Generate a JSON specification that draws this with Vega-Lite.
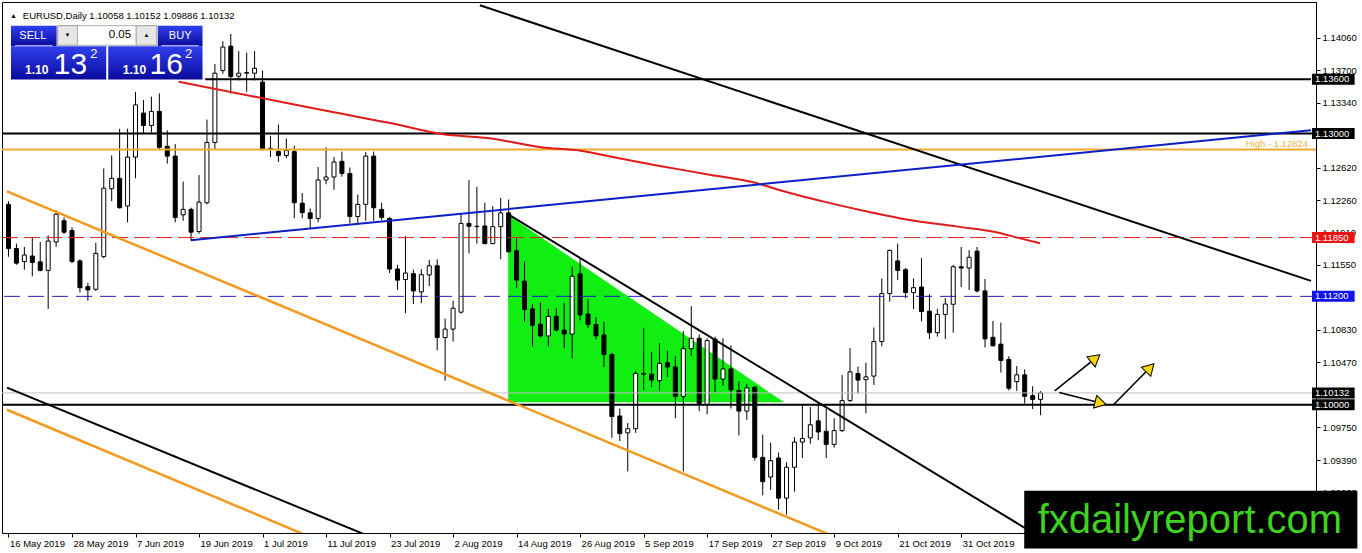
{
  "$schema": "https://vega.github.io/schema/vega-lite/v6.json",
  "width": 1314,
  "height": 531,
  "autosize": {"type": "none"},
  "padding": {"left": 2, "top": 2, "right": 46, "bottom": 20},
  "background": "white",
  "config": {
    "view": {"stroke": "black", "strokeWidth": 1},
    "axis": {"labelFont": "Liberation Sans", "labelFontSize": 9.5, "labelColor": "black", "tickColor": "black", "domainColor": "black", "grid": false, "title": null},
    "text": {"font": "Liberation Sans"}
  },
  "datasets": {
    "candles": [
      {"i":0,"d":"2019-05-16","o":1.12217,"h":1.12253,"l":1.11639,"c":1.11729},
      {"i":1,"d":"2019-05-17","o":1.11729,"h":1.11783,"l":1.11549,"c":1.11567},
      {"i":2,"d":"2019-05-20","o":1.11585,"h":1.11747,"l":1.11495,"c":1.11657},
      {"i":3,"d":"2019-05-21","o":1.11646,"h":1.11856,"l":1.11422,"c":1.11574},
      {"i":4,"d":"2019-05-22","o":1.11581,"h":1.11801,"l":1.11476,"c":1.11487},
      {"i":5,"d":"2019-05-23","o":1.11487,"h":1.11874,"l":1.11061,"c":1.11812},
      {"i":6,"d":"2019-05-24","o":1.11801,"h":1.12152,"l":1.11747,"c":1.12108},
      {"i":7,"d":"2019-05-27","o":1.12036,"h":1.12072,"l":1.11892,"c":1.1191},
      {"i":8,"d":"2019-05-28","o":1.11928,"h":1.11964,"l":1.11567,"c":1.11585},
      {"i":9,"d":"2019-05-29","o":1.11592,"h":1.1161,"l":1.11242,"c":1.11296},
      {"i":10,"d":"2019-05-30","o":1.11307,"h":1.1135,"l":1.11152,"c":1.11271},
      {"i":11,"d":"2019-05-31","o":1.11278,"h":1.11791,"l":1.1126,"c":1.11675},
      {"i":12,"d":"2019-06-03","o":1.11639,"h":1.12614,"l":1.11621,"c":1.12397},
      {"i":13,"d":"2019-06-04","o":1.1239,"h":1.12758,"l":1.12253,"c":1.12505},
      {"i":14,"d":"2019-06-05","o":1.12505,"h":1.13054,"l":1.1217,"c":1.1218},
      {"i":15,"d":"2019-06-06","o":1.12199,"h":1.13054,"l":1.12018,"c":1.1274},
      {"i":16,"d":"2019-06-07","o":1.1274,"h":1.13462,"l":1.12505,"c":1.13318},
      {"i":17,"d":"2019-06-10","o":1.13227,"h":1.13372,"l":1.12993,"c":1.1309},
      {"i":18,"d":"2019-06-11","o":1.1309,"h":1.13408,"l":1.13011,"c":1.13245},
      {"i":19,"d":"2019-06-12","o":1.13245,"h":1.13444,"l":1.1283,"c":1.12848},
      {"i":20,"d":"2019-06-13","o":1.12859,"h":1.13036,"l":1.12668,"c":1.12751},
      {"i":21,"d":"2019-06-14","o":1.12751,"h":1.12884,"l":1.12018,"c":1.12072},
      {"i":22,"d":"2019-06-17","o":1.12101,"h":1.12469,"l":1.12036,"c":1.12162},
      {"i":23,"d":"2019-06-18","o":1.12162,"h":1.1218,"l":1.11819,"c":1.1191},
      {"i":24,"d":"2019-06-19","o":1.11917,"h":1.12541,"l":1.11892,"c":1.12242},
      {"i":25,"d":"2019-06-20","o":1.12235,"h":1.13155,"l":1.12217,"c":1.12902},
      {"i":26,"d":"2019-06-21","o":1.12902,"h":1.13769,"l":1.1283,"c":1.13668},
      {"i":27,"d":"2019-06-24","o":1.13697,"h":1.14022,"l":1.13661,"c":1.13957},
      {"i":28,"d":"2019-06-25","o":1.13967,"h":1.14101,"l":1.13444,"c":1.13632},
      {"i":29,"d":"2019-06-26","o":1.13635,"h":1.13913,"l":1.13588,"c":1.13668},
      {"i":30,"d":"2019-06-27","o":1.13668,"h":1.13895,"l":1.13462,"c":1.13675},
      {"i":31,"d":"2019-06-28","o":1.13668,"h":1.13913,"l":1.13588,"c":1.13722},
      {"i":32,"d":"2019-07-01","o":1.1357,"h":1.13697,"l":1.1281,"c":1.1283},
      {"i":33,"d":"2019-07-02","o":1.1283,"h":1.12975,"l":1.1274,"c":1.12837},
      {"i":34,"d":"2019-07-03","o":1.12801,"h":1.13101,"l":1.12686,"c":1.12758},
      {"i":35,"d":"2019-07-04","o":1.12758,"h":1.12946,"l":1.12729,"c":1.12812},
      {"i":36,"d":"2019-07-05","o":1.12801,"h":1.12866,"l":1.12065,"c":1.12235},
      {"i":37,"d":"2019-07-08","o":1.12231,"h":1.12343,"l":1.12065,"c":1.12126},
      {"i":38,"d":"2019-07-09","o":1.12123,"h":1.12173,"l":1.11946,"c":1.12061},
      {"i":39,"d":"2019-07-10","o":1.12061,"h":1.12632,"l":1.12018,"c":1.12487},
      {"i":40,"d":"2019-07-11","o":1.12487,"h":1.12848,"l":1.1244,"c":1.1252},
      {"i":41,"d":"2019-07-12","o":1.1252,"h":1.1274,"l":1.12379,"c":1.12686},
      {"i":42,"d":"2019-07-15","o":1.12693,"h":1.12801,"l":1.12523,"c":1.12559},
      {"i":43,"d":"2019-07-16","o":1.12559,"h":1.12624,"l":1.12007,"c":1.12083},
      {"i":44,"d":"2019-07-17","o":1.12083,"h":1.12325,"l":1.11993,"c":1.12217},
      {"i":45,"d":"2019-07-18","o":1.12217,"h":1.12794,"l":1.12036,"c":1.12751},
      {"i":46,"d":"2019-07-19","o":1.12751,"h":1.12801,"l":1.12036,"c":1.1218},
      {"i":47,"d":"2019-07-22","o":1.12162,"h":1.12235,"l":1.12043,"c":1.12072},
      {"i":48,"d":"2019-07-23","o":1.12061,"h":1.12079,"l":1.11458,"c":1.11502},
      {"i":49,"d":"2019-07-24","o":1.11502,"h":1.11549,"l":1.11271,"c":1.11379},
      {"i":50,"d":"2019-07-25","o":1.11386,"h":1.11866,"l":1.11014,"c":1.11458},
      {"i":51,"d":"2019-07-26","o":1.11451,"h":1.11495,"l":1.11115,"c":1.1126},
      {"i":52,"d":"2019-07-29","o":1.11249,"h":1.11502,"l":1.11123,"c":1.1144},
      {"i":53,"d":"2019-07-30","o":1.11437,"h":1.11603,"l":1.11314,"c":1.11538},
      {"i":54,"d":"2019-07-31","o":1.11538,"h":1.1161,"l":1.10603,"c":1.10744},
      {"i":55,"d":"2019-08-01","o":1.10744,"h":1.10953,"l":1.10267,"c":1.10838},
      {"i":56,"d":"2019-08-02","o":1.10838,"h":1.11152,"l":1.107,"c":1.11069},
      {"i":57,"d":"2019-08-05","o":1.11025,"h":1.12115,"l":1.1101,"c":1.12007},
      {"i":58,"d":"2019-08-06","o":1.12007,"h":1.12487,"l":1.11675,"c":1.11975},
      {"i":59,"d":"2019-08-07","o":1.11975,"h":1.12411,"l":1.11783,"c":1.11971},
      {"i":60,"d":"2019-08-08","o":1.11978,"h":1.12235,"l":1.11776,"c":1.11783},
      {"i":61,"d":"2019-08-09","o":1.11783,"h":1.12198,"l":1.11776,"c":1.11971},
      {"i":62,"d":"2019-08-12","o":1.11971,"h":1.12289,"l":1.1161,"c":1.12123},
      {"i":63,"d":"2019-08-13","o":1.12123,"h":1.12271,"l":1.11685,"c":1.11693},
      {"i":64,"d":"2019-08-14","o":1.11704,"h":1.11856,"l":1.11296,"c":1.11379},
      {"i":65,"d":"2019-08-15","o":1.11368,"h":1.11585,"l":1.10917,"c":1.11054},
      {"i":66,"d":"2019-08-16","o":1.11061,"h":1.11115,"l":1.10646,"c":1.10881},
      {"i":67,"d":"2019-08-19","o":1.10892,"h":1.11134,"l":1.10744,"c":1.10762},
      {"i":68,"d":"2019-08-20","o":1.10762,"h":1.11061,"l":1.10646,"c":1.10978},
      {"i":69,"d":"2019-08-21","o":1.10978,"h":1.11069,"l":1.10809,"c":1.10827},
      {"i":70,"d":"2019-08-22","o":1.10827,"h":1.11126,"l":1.10628,"c":1.10783},
      {"i":71,"d":"2019-08-23","o":1.10783,"h":1.11531,"l":1.10513,"c":1.11422},
      {"i":72,"d":"2019-08-26","o":1.11448,"h":1.11621,"l":1.10935,"c":1.10996},
      {"i":73,"d":"2019-08-27","o":1.11004,"h":1.1117,"l":1.10852,"c":1.10888},
      {"i":74,"d":"2019-08-28","o":1.10888,"h":1.10971,"l":1.10726,"c":1.10762},
      {"i":75,"d":"2019-08-29","o":1.10773,"h":1.10917,"l":1.10419,"c":1.10556},
      {"i":76,"d":"2019-08-30","o":1.10556,"h":1.10574,"l":1.09635,"c":1.0987},
      {"i":77,"d":"2019-09-02","o":1.09877,"h":1.0996,"l":1.09599,"c":1.09682},
      {"i":78,"d":"2019-09-03","o":1.0969,"h":1.09798,"l":1.09264,"c":1.09736},
      {"i":79,"d":"2019-09-04","o":1.09736,"h":1.10375,"l":1.0969,"c":1.10347},
      {"i":80,"d":"2019-09-05","o":1.10347,"h":1.10852,"l":1.10159,"c":1.10339},
      {"i":81,"d":"2019-09-06","o":1.10339,"h":1.10585,"l":1.10195,"c":1.10274},
      {"i":82,"d":"2019-09-09","o":1.10267,"h":1.10682,"l":1.10152,"c":1.10458},
      {"i":83,"d":"2019-09-10","o":1.10466,"h":1.10599,"l":1.1031,"c":1.10419},
      {"i":84,"d":"2019-09-11","o":1.10419,"h":1.10538,"l":1.09852,"c":1.10094},
      {"i":85,"d":"2019-09-12","o":1.10094,"h":1.10816,"l":1.09264,"c":1.10621},
      {"i":86,"d":"2019-09-13","o":1.10621,"h":1.1109,"l":1.10538,"c":1.10736},
      {"i":87,"d":"2019-09-16","o":1.10736,"h":1.1078,"l":1.09931,"c":1.10014},
      {"i":88,"d":"2019-09-17","o":1.10004,"h":1.10736,"l":1.09895,"c":1.10711},
      {"i":89,"d":"2019-09-18","o":1.10726,"h":1.10754,"l":1.10134,"c":1.10285},
      {"i":90,"d":"2019-09-19","o":1.10285,"h":1.10736,"l":1.10213,"c":1.10397},
      {"i":91,"d":"2019-09-20","o":1.10397,"h":1.10657,"l":1.0996,"c":1.10166},
      {"i":92,"d":"2019-09-23","o":1.10159,"h":1.1026,"l":1.09661,"c":1.09931},
      {"i":93,"d":"2019-09-24","o":1.09931,"h":1.10231,"l":1.09834,"c":1.10188},
      {"i":94,"d":"2019-09-25","o":1.10195,"h":1.10209,"l":1.09383,"c":1.09419},
      {"i":95,"d":"2019-09-26","o":1.09419,"h":1.09671,"l":1.09,"c":1.0915},
      {"i":96,"d":"2019-09-27","o":1.09202,"h":1.09581,"l":1.09058,"c":1.09383},
      {"i":97,"d":"2019-09-30","o":1.09412,"h":1.09473,"l":1.08841,"c":1.08968},
      {"i":98,"d":"2019-10-01","o":1.08968,"h":1.09365,"l":1.08787,"c":1.0931},
      {"i":99,"d":"2019-10-02","o":1.0931,"h":1.09643,"l":1.0904,"c":1.09588},
      {"i":100,"d":"2019-10-03","o":1.09588,"h":1.10004,"l":1.09412,"c":1.09628},
      {"i":101,"d":"2019-10-04","o":1.09635,"h":1.09978,"l":1.0957,"c":1.0978},
      {"i":102,"d":"2019-10-07","o":1.09823,"h":1.10004,"l":1.0961,"c":1.097},
      {"i":103,"d":"2019-10-08","o":1.09708,"h":1.0996,"l":1.09412,"c":1.09563},
      {"i":104,"d":"2019-10-09","o":1.09563,"h":1.09852,"l":1.09527,"c":1.09715},
      {"i":105,"d":"2019-10-10","o":1.09715,"h":1.10329,"l":1.097,"c":1.10047},
      {"i":106,"d":"2019-10-11","o":1.10047,"h":1.10628,"l":1.10032,"c":1.10365},
      {"i":107,"d":"2019-10-14","o":1.10347,"h":1.10422,"l":1.10123,"c":1.10274},
      {"i":108,"d":"2019-10-15","o":1.10278,"h":1.10466,"l":1.09906,"c":1.1031},
      {"i":109,"d":"2019-10-16","o":1.10318,"h":1.10856,"l":1.1022,"c":1.107},
      {"i":110,"d":"2019-10-17","o":1.107,"h":1.11397,"l":1.10646,"c":1.11231},
      {"i":111,"d":"2019-10-18","o":1.11231,"h":1.11718,"l":1.11141,"c":1.11708},
      {"i":112,"d":"2019-10-21","o":1.11592,"h":1.11783,"l":1.11379,"c":1.11487},
      {"i":113,"d":"2019-10-22","o":1.11495,"h":1.11513,"l":1.1118,"c":1.11242},
      {"i":114,"d":"2019-10-23","o":1.11242,"h":1.11397,"l":1.11058,"c":1.11296},
      {"i":115,"d":"2019-10-24","o":1.11303,"h":1.11621,"l":1.10924,"c":1.11032},
      {"i":116,"d":"2019-10-25","o":1.11036,"h":1.11224,"l":1.10729,"c":1.10798},
      {"i":117,"d":"2019-10-28","o":1.10798,"h":1.11061,"l":1.10754,"c":1.11},
      {"i":118,"d":"2019-10-29","o":1.11,"h":1.1118,"l":1.10729,"c":1.11115},
      {"i":119,"d":"2019-10-30","o":1.11112,"h":1.11549,"l":1.10798,"c":1.11527},
      {"i":120,"d":"2019-10-31","o":1.11527,"h":1.11747,"l":1.11303,"c":1.11513},
      {"i":121,"d":"2019-11-01","o":1.11513,"h":1.11711,"l":1.11271,"c":1.11632},
      {"i":122,"d":"2019-11-04","o":1.117,"h":1.11747,"l":1.11242,"c":1.1126},
      {"i":123,"d":"2019-11-05","o":1.1126,"h":1.11393,"l":1.10635,"c":1.10729},
      {"i":124,"d":"2019-11-06","o":1.10747,"h":1.10928,"l":1.10646,"c":1.10653},
      {"i":125,"d":"2019-11-07","o":1.10671,"h":1.1091,"l":1.10357,"c":1.10491},
      {"i":126,"d":"2019-11-08","o":1.10502,"h":1.10538,"l":1.10159,"c":1.10184},
      {"i":127,"d":"2019-11-11","o":1.10256,"h":1.1043,"l":1.10155,"c":1.10332},
      {"i":128,"d":"2019-11-12","o":1.10332,"h":1.10393,"l":1.10014,"c":1.10094},
      {"i":129,"d":"2019-11-13","o":1.10101,"h":1.10206,"l":1.09953,"c":1.10061},
      {"i":130,"d":"2019-11-14","o":1.10058,"h":1.10152,"l":1.09886,"c":1.10132}
    ],
    "ma": [
      {"i":21.44,"p":1.13574},{"i":33.31,"p":1.13368},{"i":40.81,"p":1.13238},{"i":47.94,"p":1.13119},
      {"i":54.56,"p":1.12995},{"i":60.81,"p":1.12946},{"i":67.06,"p":1.12849},{"i":72.06,"p":1.12811},
      {"i":77.06,"p":1.12724},{"i":81.69,"p":1.12648},{"i":87.94,"p":1.12551},{"i":94.19,"p":1.12453},
      {"i":98.31,"p":1.12345},{"i":102.44,"p":1.12253},{"i":108.69,"p":1.12128},{"i":112.94,"p":1.12052},
      {"i":119.56,"p":1.11971},{"i":124.56,"p":1.11906},{"i":127.44,"p":1.11841},{"i":129.94,"p":1.11787}
    ],
    "trendBlack": [
      {"g":"a","i":59.375,"p":1.14419},{"g":"a","i":164.06,"p":1.11371},
      {"g":"b","i":63.06,"p":1.12101},{"g":"b","i":164.06,"p":1.06718},
      {"g":"c","i":-0.19,"p":1.10191},{"g":"c","i":44.56,"p":1.08578}
    ],
    "trendOrange": [
      {"g":"a","i":-0.19,"p":1.12361},{"g":"a","i":105.81,"p":1.08476},
      {"g":"b","i":-0.19,"p":1.09946},{"g":"b","i":37.06,"p":1.08574}
    ],
    "trendBlue": [
      {"i":22.94,"p":1.1182},{"i":164.06,"p":1.13038}
    ],
    "arrows": [
      {"a":1,"i":131.78,"p":1.10154},{"a":1,"i":137.06,"p":1.10526},
      {"a":2,"i":132.35,"p":1.10136},{"a":2,"i":137.56,"p":1.1002},
      {"a":3,"i":139.15,"p":1.09998},{"a":3,"i":143.81,"p":1.10413}
    ]
  },
  "layer": [
    {
      "data": {"values": [{"i":62.94,"top":1.121,"bot":1.1003},{"i":97.69,"top":1.1003,"bot":1.1003}]},
      "mark": {"type": "area", "color": "#11ee11", "opacity": 1},
      "encoding": {
        "x": {"field": "i", "type": "quantitative", "scale": {"domain": [-0.1875, 164.0625], "nice": false, "zero": false}},
        "y": {"field": "top", "type": "quantitative", "scale": {"domain": [1.08638, 1.144], "nice": false, "zero": false}},
        "y2": {"field": "bot"}
      }
    },
    {
      "data": {"name": "candles"},
      "mark": {"type": "rule", "color": "black", "strokeWidth": 1},
      "encoding": {
        "x": {"field": "i", "type": "quantitative", "scale": {"domain": [-0.1875, 164.0625], "nice": false, "zero": false},
          "axis": {"orient": "bottom", "values": [0,8,16,24,32,40,48,56,64,72,80,88,96,104,112,120], "tickSize": 4, "labelAlign": "left", "labelBaseline": "top", "labelPadding": 1, "labelOffset": 1,
            "labelExpr": "['16 May 2019','28 May 2019','7 Jun 2019','19 Jun 2019','1 Jul 2019','11 Jul 2019','23 Jul 2019','2 Aug 2019','14 Aug 2019','26 Aug 2019','5 Sep 2019','17 Sep 2019','27 Sep 2019','9 Oct 2019','21 Oct 2019','31 Oct 2019'][round(datum.value / 8)]"}},
        "y": {"field": "l", "type": "quantitative", "scale": {"domain": [1.08638, 1.144], "nice": false, "zero": false},
          "axis": {"orient": "right", "values": [1.1406,1.137,1.1334,1.1262,1.1226,1.1191,1.1155,1.1083,1.1047,1.0975,1.0939,1.0903], "format": ".5f", "tickSize": 4, "labelPadding": 2}},
        "y2": {"field": "h"}
      }
    },
    {
      "data": {"name": "candles"},
      "mark": {"type": "bar", "size": 4, "stroke": "black", "strokeWidth": 1},
      "encoding": {
        "x": {"field": "i", "type": "quantitative", "scale": {"domain": [-0.1875, 164.0625], "nice": false, "zero": false}},
        "y": {"field": "o", "type": "quantitative", "scale": {"domain": [1.08638, 1.144], "nice": false, "zero": false}},
        "y2": {"field": "c"},
        "fill": {"condition": {"test": "datum.c >= datum.o", "value": "white"}, "value": "black"}
      }
    },
    {
      "data": {"values": [{"p": 1.10132}]},
      "mark": {"type": "rule", "color": "#c0c0c0", "strokeWidth": 1},
      "encoding": {"y": {"field": "p", "type": "quantitative", "scale": {"domain": [1.08638, 1.144], "nice": false, "zero": false}}}
    },
    {
      "data": {"values": [{"p": 1.13}, {"p": 1.1}]},
      "mark": {"type": "rule", "color": "black", "strokeWidth": 2},
      "encoding": {"y": {"field": "p", "type": "quantitative", "scale": {"domain": [1.08638, 1.144], "nice": false, "zero": false}}}
    },
    {
      "data": {"values": [{"p": 1.136, "from": 24.78, "to": 164.06}]},
      "mark": {"type": "rule", "color": "black", "strokeWidth": 2},
      "encoding": {
        "x": {"field": "from", "type": "quantitative", "scale": {"domain": [-0.1875, 164.0625], "nice": false, "zero": false}},
        "x2": {"field": "to"},
        "y": {"field": "p", "type": "quantitative", "scale": {"domain": [1.08638, 1.144], "nice": false, "zero": false}}
      }
    },
    {
      "data": {"values": [{"p": 1.12824}]},
      "mark": {"type": "rule", "color": "#f0a830", "strokeWidth": 2},
      "encoding": {"y": {"field": "p", "type": "quantitative", "scale": {"domain": [1.08638, 1.144], "nice": false, "zero": false}}}
    },
    {
      "data": {"values": [{"p": 1.1185}]},
      "mark": {"type": "rule", "color": "#dd2020", "strokeWidth": 1, "strokeDash": [16, 6]},
      "encoding": {"y": {"field": "p", "type": "quantitative", "scale": {"domain": [1.08638, 1.144], "nice": false, "zero": false}}}
    },
    {
      "data": {"values": [{"p": 1.112}]},
      "mark": {"type": "rule", "color": "#1a1acc", "strokeWidth": 1, "strokeDash": [16, 8]},
      "encoding": {"y": {"field": "p", "type": "quantitative", "scale": {"domain": [1.08638, 1.144], "nice": false, "zero": false}}}
    },
    {
      "data": {"name": "trendOrange"},
      "mark": {"type": "line", "color": "#f39a1e", "strokeWidth": 2.5, "clip": true},
      "encoding": {
        "x": {"field": "i", "type": "quantitative", "scale": {"domain": [-0.1875, 164.0625], "nice": false, "zero": false}},
        "y": {"field": "p", "type": "quantitative", "scale": {"domain": [1.08638, 1.144], "nice": false, "zero": false}},
        "detail": {"field": "g"}
      }
    },
    {
      "data": {"name": "trendBlack"},
      "mark": {"type": "line", "color": "black", "strokeWidth": 2, "clip": true},
      "encoding": {
        "x": {"field": "i", "type": "quantitative", "scale": {"domain": [-0.1875, 164.0625], "nice": false, "zero": false}},
        "y": {"field": "p", "type": "quantitative", "scale": {"domain": [1.08638, 1.144], "nice": false, "zero": false}},
        "detail": {"field": "g"}
      }
    },
    {
      "data": {"name": "ma"},
      "mark": {"type": "line", "color": "#e01b1b", "strokeWidth": 2, "interpolate": "monotone", "clip": true},
      "encoding": {
        "x": {"field": "i", "type": "quantitative", "scale": {"domain": [-0.1875, 164.0625], "nice": false, "zero": false}},
        "y": {"field": "p", "type": "quantitative", "scale": {"domain": [1.08638, 1.144], "nice": false, "zero": false}}
      }
    },
    {
      "data": {"name": "trendBlue"},
      "mark": {"type": "line", "color": "#0b1fc8", "strokeWidth": 2, "clip": true},
      "encoding": {
        "x": {"field": "i", "type": "quantitative", "scale": {"domain": [-0.1875, 164.0625], "nice": false, "zero": false}},
        "y": {"field": "p", "type": "quantitative", "scale": {"domain": [1.08638, 1.144], "nice": false, "zero": false}}
      }
    },
    {
      "data": {"name": "arrows"},
      "mark": {"type": "line", "color": "black", "strokeWidth": 1.6},
      "encoding": {
        "x": {"field": "i", "type": "quantitative", "scale": {"domain": [-0.1875, 164.0625], "nice": false, "zero": false}},
        "y": {"field": "p", "type": "quantitative", "scale": {"domain": [1.08638, 1.144], "nice": false, "zero": false}},
        "detail": {"field": "a"}
      }
    },
    {
      "data": {"values": [{"i": 136.91, "p": 1.10515}]},
      "mark": {"type": "point", "shape": "triangle-up", "size": 170, "filled": true, "fill": "#f6d40a", "stroke": "black", "strokeWidth": 1, "opacity": 1, "angle": 51},
      "encoding": {
        "x": {"field": "i", "type": "quantitative", "scale": {"domain": [-0.1875, 164.0625], "nice": false, "zero": false}},
        "y": {"field": "p", "type": "quantitative", "scale": {"domain": [1.08638, 1.144], "nice": false, "zero": false}}
      }
    },
    {
      "data": {"values": [{"i": 137.56, "p": 1.1002}]},
      "mark": {"type": "point", "shape": "triangle-up", "size": 170, "filled": true, "fill": "#f6d40a", "stroke": "black", "strokeWidth": 1, "opacity": 1, "angle": 104},
      "encoding": {
        "x": {"field": "i", "type": "quantitative", "scale": {"domain": [-0.1875, 164.0625], "nice": false, "zero": false}},
        "y": {"field": "p", "type": "quantitative", "scale": {"domain": [1.08638, 1.144], "nice": false, "zero": false}}
      }
    },
    {
      "data": {"values": [{"i": 143.78, "p": 1.1041}]},
      "mark": {"type": "point", "shape": "triangle-up", "size": 170, "filled": true, "fill": "#f6d40a", "stroke": "black", "strokeWidth": 1, "opacity": 1, "angle": 44},
      "encoding": {
        "x": {"field": "i", "type": "quantitative", "scale": {"domain": [-0.1875, 164.0625], "nice": false, "zero": false}},
        "y": {"field": "p", "type": "quantitative", "scale": {"domain": [1.08638, 1.144], "nice": false, "zero": false}}
      }
    },
    {
      "data": {"values": [{"p": 1.12824, "t": "High - 1.12824"}]},
      "mark": {"type": "text", "align": "right", "baseline": "bottom", "dy": -1, "fontSize": 9.5, "color": "#f0b040"},
      "encoding": {
        "x": {"datum": 163.69, "type": "quantitative", "scale": {"domain": [-0.1875, 164.0625], "nice": false, "zero": false}},
        "y": {"field": "p", "type": "quantitative", "scale": {"domain": [1.08638, 1.144], "nice": false, "zero": false}},
        "text": {"field": "t"}
      }
    },
    {
      "data": {"values": [{"p": 1.136}, {"p": 1.13}, {"p": 1.10132}, {"p": 1.1}]},
      "mark": {"type": "bar", "size": 11, "color": "black"},
      "encoding": {
        "x": {"datum": 164.19, "type": "quantitative", "scale": {"domain": [-0.1875, 164.0625], "nice": false, "zero": false}},
        "x2": {"datum": 169.56},
        "y": {"field": "p", "type": "quantitative", "scale": {"domain": [1.08638, 1.144], "nice": false, "zero": false}}
      }
    },
    {
      "data": {"values": [{"p": 1.1185}]},
      "mark": {"type": "bar", "size": 11, "color": "#ee1111"},
      "encoding": {
        "x": {"datum": 164.19, "type": "quantitative", "scale": {"domain": [-0.1875, 164.0625], "nice": false, "zero": false}},
        "x2": {"datum": 169.56},
        "y": {"field": "p", "type": "quantitative", "scale": {"domain": [1.08638, 1.144], "nice": false, "zero": false}}
      }
    },
    {
      "data": {"values": [{"p": 1.112}]},
      "mark": {"type": "bar", "size": 11, "color": "#1111ee"},
      "encoding": {
        "x": {"datum": 164.19, "type": "quantitative", "scale": {"domain": [-0.1875, 164.0625], "nice": false, "zero": false}},
        "x2": {"datum": 169.56},
        "y": {"field": "p", "type": "quantitative", "scale": {"domain": [1.08638, 1.144], "nice": false, "zero": false}}
      }
    },
    {
      "data": {"values": [{"p": 1.136}, {"p": 1.13}, {"p": 1.1185}, {"p": 1.112}, {"p": 1.10132}, {"p": 1.1}]},
      "mark": {"type": "text", "align": "left", "baseline": "middle", "fontSize": 9.5, "color": "white"},
      "encoding": {
        "x": {"datum": 164.56, "type": "quantitative", "scale": {"domain": [-0.1875, 164.0625], "nice": false, "zero": false}},
        "y": {"field": "p", "type": "quantitative", "scale": {"domain": [1.08638, 1.144], "nice": false, "zero": false}},
        "text": {"field": "p", "format": ".5f"}
      }
    },
    {
      "data": {"values": [{"t": "EURUSD,Daily  1.10058 1.10152 1.09886 1.10132"}]},
      "mark": {"type": "text", "align": "left", "baseline": "middle", "fontSize": 9.5, "color": "black"},
      "encoding": {
        "x": {"datum": 1.81, "type": "quantitative", "scale": {"domain": [-0.1875, 164.0625], "nice": false, "zero": false}},
        "y": {"datum": 1.14302, "type": "quantitative", "scale": {"domain": [1.08638, 1.144], "nice": false, "zero": false}},
        "text": {"field": "t"}
      }
    },
    {
      "data": {"values": [{"t": "▲"}]},
      "mark": {"type": "text", "align": "center", "baseline": "middle", "fontSize": 7, "color": "black"},
      "encoding": {
        "x": {"datum": 0.63, "type": "quantitative", "scale": {"domain": [-0.1875, 164.0625], "nice": false, "zero": false}},
        "y": {"datum": 1.14302, "type": "quantitative", "scale": {"domain": [1.08638, 1.144], "nice": false, "zero": false}},
        "text": {"field": "t"}
      }
    },
    {
      "data": {"values": [
        {"a": 0.3125, "b": 6.0625, "top": 1.14194, "bot": 1.13966},
        {"a": 18.8125, "b": 24.4375, "top": 1.14194, "bot": 1.13966},
        {"a": 0.3125, "b": 12.3125, "top": 1.13966, "bot": 1.13597},
        {"a": 12.5625, "b": 24.4375, "top": 1.13966, "bot": 1.13597}
      ]},
      "mark": {"type": "rect", "color": {"gradient": "linear", "x1": 0, "y1": 0, "x2": 0, "y2": 1, "stops": [{"offset": 0, "color": "#3040ee"}, {"offset": 1, "color": "#0a0a9c"}]}},
      "encoding": {
        "x": {"field": "a", "type": "quantitative", "scale": {"domain": [-0.1875, 164.0625], "nice": false, "zero": false}},
        "x2": {"field": "b"},
        "y": {"field": "top", "type": "quantitative", "scale": {"domain": [1.08638, 1.144], "nice": false, "zero": false}},
        "y2": {"field": "bot"}
      }
    },
    {
      "data": {"values": [
        {"a": 6.1875, "b": 8.6875, "top": 1.14194, "bot": 1.13977},
        {"a": 16.0625, "b": 18.6875, "top": 1.14194, "bot": 1.13977}
      ]},
      "mark": {"type": "rect", "fill": "#e6e6e6", "stroke": "#9a9a9a", "strokeWidth": 1},
      "encoding": {
        "x": {"field": "a", "type": "quantitative", "scale": {"domain": [-0.1875, 164.0625], "nice": false, "zero": false}},
        "x2": {"field": "b"},
        "y": {"field": "top", "type": "quantitative", "scale": {"domain": [1.08638, 1.144], "nice": false, "zero": false}},
        "y2": {"field": "bot"}
      }
    },
    {
      "data": {"values": [{"a": 8.6875, "b": 16.0625, "top": 1.14194, "bot": 1.13977}]},
      "mark": {"type": "rect", "fill": "white", "stroke": "#b0b0b0", "strokeWidth": 1},
      "encoding": {
        "x": {"field": "a", "type": "quantitative", "scale": {"domain": [-0.1875, 164.0625], "nice": false, "zero": false}},
        "x2": {"field": "b"},
        "y": {"field": "top", "type": "quantitative", "scale": {"domain": [1.08638, 1.144], "nice": false, "zero": false}},
        "y2": {"field": "bot"}
      }
    },
    {
      "data": {"values": [{"a": 0.8125, "b": 5.5625, "p": 1.13972}, {"a": 19.25, "b": 23.9375, "p": 1.13972}]},
      "mark": {"type": "rule", "color": "#c8ccff", "strokeWidth": 1},
      "encoding": {
        "x": {"field": "a", "type": "quantitative", "scale": {"domain": [-0.1875, 164.0625], "nice": false, "zero": false}},
        "x2": {"field": "b"},
        "y": {"field": "p", "type": "quantitative", "scale": {"domain": [1.08638, 1.144], "nice": false, "zero": false}}
      }
    },
    {
      "data": {"values": [{"i": 3.0625, "t": "SELL"}, {"i": 21.625, "t": "BUY"}]},
      "mark": {"type": "text", "align": "center", "baseline": "middle", "fontSize": 11, "color": "white"},
      "encoding": {
        "x": {"field": "i", "type": "quantitative", "scale": {"domain": [-0.1875, 164.0625], "nice": false, "zero": false}},
        "y": {"datum": 1.1408, "type": "quantitative", "scale": {"domain": [1.08638, 1.144], "nice": false, "zero": false}},
        "text": {"field": "t"}
      }
    },
    {
      "data": {"values": [{"i": 15.4375, "t": "0.05"}]},
      "mark": {"type": "text", "align": "right", "baseline": "middle", "fontSize": 11.5, "color": "black"},
      "encoding": {
        "x": {"field": "i", "type": "quantitative", "scale": {"domain": [-0.1875, 164.0625], "nice": false, "zero": false}},
        "y": {"datum": 1.14085, "type": "quantitative", "scale": {"domain": [1.08638, 1.144], "nice": false, "zero": false}},
        "text": {"field": "t"}
      }
    },
    {
      "data": {"values": [{"i": 7.4375, "t": "▼"}, {"i": 17.375, "t": "▲"}]},
      "mark": {"type": "text", "align": "center", "baseline": "middle", "fontSize": 6, "color": "black"},
      "encoding": {
        "x": {"field": "i", "type": "quantitative", "scale": {"domain": [-0.1875, 164.0625], "nice": false, "zero": false}},
        "y": {"datum": 1.14085, "type": "quantitative", "scale": {"domain": [1.08638, 1.144], "nice": false, "zero": false}},
        "text": {"field": "t"}
      }
    },
    {
      "data": {"values": [{"i": 3.5625, "t": "1.10"}, {"i": 15.875, "t": "1.10"}]},
      "mark": {"type": "text", "align": "center", "baseline": "alphabetic", "fontSize": 12, "fontWeight": "bold", "color": "white"},
      "encoding": {
        "x": {"field": "i", "type": "quantitative", "scale": {"domain": [-0.1875, 164.0625], "nice": false, "zero": false}},
        "y": {"datum": 1.13662, "type": "quantitative", "scale": {"domain": [1.08638, 1.144], "nice": false, "zero": false}},
        "text": {"field": "t"}
      }
    },
    {
      "data": {"values": [{"i": 7.8125, "t": "13"}, {"i": 19.875, "t": "16"}]},
      "mark": {"type": "text", "align": "center", "baseline": "alphabetic", "fontSize": 30, "color": "white"},
      "encoding": {
        "x": {"field": "i", "type": "quantitative", "scale": {"domain": [-0.1875, 164.0625], "nice": false, "zero": false}},
        "y": {"datum": 1.13662, "type": "quantitative", "scale": {"domain": [1.08638, 1.144], "nice": false, "zero": false}},
        "text": {"field": "t"}
      }
    },
    {
      "data": {"values": [{"i": 10.75, "t": "2"}, {"i": 22.6875, "t": "2"}]},
      "mark": {"type": "text", "align": "center", "baseline": "alphabetic", "fontSize": 13, "color": "white"},
      "encoding": {
        "x": {"field": "i", "type": "quantitative", "scale": {"domain": [-0.1875, 164.0625], "nice": false, "zero": false}},
        "y": {"datum": 1.13836, "type": "quantitative", "scale": {"domain": [1.08638, 1.144], "nice": false, "zero": false}},
        "text": {"field": "t"}
      }
    },
    {
      "data": {"values": [{"a": 127.94, "b": 169.9, "top": 1.09051, "bot": 1.0841}]},
      "mark": {"type": "rect", "color": "black"},
      "encoding": {
        "x": {"field": "a", "type": "quantitative", "scale": {"domain": [-0.1875, 164.0625], "nice": false, "zero": false}},
        "x2": {"field": "b"},
        "y": {"field": "top", "type": "quantitative", "scale": {"domain": [1.08638, 1.144], "nice": false, "zero": false}},
        "y2": {"field": "bot"}
      }
    },
    {
      "data": {"values": [{"t": "fxdailyreport.com"}]},
      "mark": {"type": "text", "align": "center", "baseline": "alphabetic", "fontSize": 40, "color": "#3fd21f"},
      "encoding": {
        "x": {"datum": 148.81, "type": "quantitative", "scale": {"domain": [-0.1875, 164.0625], "nice": false, "zero": false}},
        "y": {"datum": 1.08584, "type": "quantitative", "scale": {"domain": [1.08638, 1.144], "nice": false, "zero": false}},
        "text": {"field": "t"}
      }
    }
  ]
}
